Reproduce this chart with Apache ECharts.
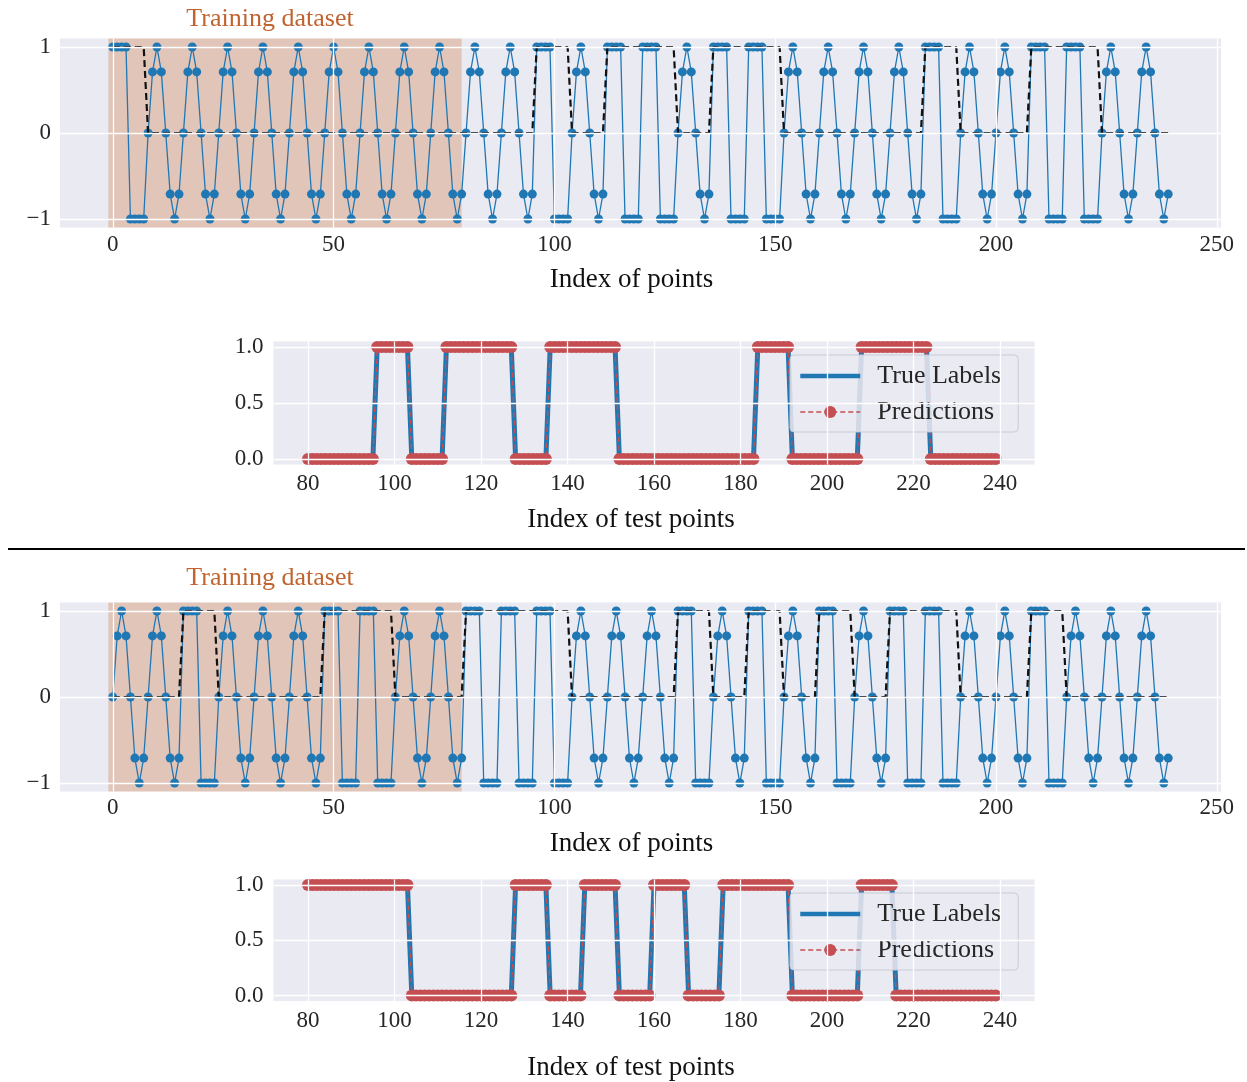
<!DOCTYPE html>
<html>
<head>
<meta charset="utf-8">
<script src="https://cdn.jsdelivr.net/npm/echarts@6/dist/echarts.min.js"></script>
<style>
  html, body { margin: 0; padding: 0; background: #fff; }
  #main { width: 1247px; height: 1082px; }
</style>
</head>
<body>
<div id="main"></div>
<script>
// one period of each waveform (8 points)
const sineCycle = [0, 0.71, 1, 0.71, 0, -0.71, -1, -0.71];
const squareCycle = [1, 1, 1, 1, -1, -1, -1, -1];
// label of each 8-point segment (0 = sine, 1 = square), 30 segments -> 240 points
const segLabelsA = [1,0,0,0,0,0,0,0,0,0, 0,0,1,0,1,1,0,1,1,0, 0,0,0,1,0,0,1,1,0,0];
const segLabelsB = [0,0,1,0,0,0,1,1,0,0, 1,1,1,0,0,0,1,0,1,0, 1,0,1,1,0,0,1,0,0,0];
const testStart = 80;
const trainSpan = [-1, 79];

const xTicksAll = [0, 50, 100, 150, 200, 250];
const yTicksAll = [-1, 0, 1];
const xTicksTest = [80, 100, 120, 140, 160, 180, 200, 220, 240];
const yTicksTest = [0, 0.5, 1];

const FONT = '"Liberation Serif", "DejaVu Serif", serif';
const BLUE = '#1f77b4';
const RED = '#c44e52';

function buildSignal(segs) {
  let out = [];
  segs.forEach(s => { out = out.concat(s ? squareCycle : sineCycle); });
  return out;
}
function buildLabels(segs) {
  let out = [];
  segs.forEach(s => { for (let k = 0; k < 8; k++) out.push(s); });
  return out;
}

const chart = echarts.init(document.getElementById('main'));

function panelAll(idx, segs) {
  const sig = buildSignal(segs);
  const lab = buildLabels(segs);
  return [
    { // white grid lines
      type: 'line', xAxisIndex: idx, yAxisIndex: idx, data: [], z: 1, silent: true,
      markLine: {
        silent: true, symbol: ['none', 'none'], label: { show: false },
        lineStyle: { color: '#fff', width: 1.3, type: 'solid' },
        data: xTicksAll.map(v => ({ xAxis: v })).concat(yTicksAll.map(v => ({ yAxis: v })))
      }
    },
    {
      name: 'signal', type: 'line', xAxisIndex: idx, yAxisIndex: idx, z: 2,
      data: sig.map((v, i) => [i, v]),
      showAllSymbol: true, symbol: 'circle', symbolSize: 9,
      itemStyle: { color: BLUE, borderWidth: 0 },
      lineStyle: { color: BLUE, width: 1.3 }
    },
    {
      name: 'label', type: 'line', xAxisIndex: idx, yAxisIndex: idx, z: 3,
      data: lab.map((v, i) => [i, v]),
      symbol: 'none',
      lineStyle: { color: '#111', width: 2.2, type: [7, 4] }
    },
    { // training shading on top
      type: 'line', xAxisIndex: idx, yAxisIndex: idx, data: [], z: 5, silent: true,
      markArea: {
        silent: true,
        itemStyle: { color: 'rgba(205,100,35,0.27)' },
        data: [[{ xAxis: trainSpan[0] }, { xAxis: trainSpan[1] }]]
      }
    }
  ];
}

function panelTest(idx, segs) {
  const lab = buildLabels(segs).slice(testStart);
  const pts = lab.map((v, i) => [testStart + i, v]);
  return [
    {
      type: 'line', xAxisIndex: idx, yAxisIndex: idx, data: [], z: 1, silent: true,
      markLine: {
        silent: true, symbol: ['none', 'none'], label: { show: false },
        lineStyle: { color: '#fff', width: 1.3, type: 'solid' },
        data: xTicksTest.map(v => ({ xAxis: v })).concat(yTicksTest.map(v => ({ yAxis: v })))
      }
    },
    {
      name: 'True Labels', type: 'line', xAxisIndex: idx, yAxisIndex: idx, z: 2,
      data: pts, symbol: 'none',
      lineStyle: { color: BLUE, width: 5 },
      itemStyle: { color: BLUE }
    },
    {
      name: 'Predictions', type: 'line', xAxisIndex: idx, yAxisIndex: idx, z: 3,
      data: pts, showAllSymbol: true, symbol: 'circle', symbolSize: 12,
      itemStyle: { color: RED, borderWidth: 0 },
      lineStyle: { color: RED, width: 1.5, type: [5, 3] }
    }
  ];
}

function xAxisAll(gi, nameGap, margin) {
  return {
    type: 'value', gridIndex: gi, min: -11.95, max: 250.95,
    name: 'Index of points', nameLocation: 'middle', nameGap: nameGap,
    nameTextStyle: { fontFamily: FONT, fontSize: 27, color: '#111', padding: [0, 18, 0, 0] },
    axisLine: { show: false }, axisTick: { show: false, customValues: xTicksAll }, splitLine: { show: false },
    axisLabel: { customValues: xTicksAll, fontFamily: FONT, fontSize: 23, color: '#262626', margin: margin }
  };
}
function yAxisAll(gi) {
  return {
    type: 'value', gridIndex: gi, min: -1.1, max: 1.1,
    axisLine: { show: false }, axisTick: { show: false, customValues: yTicksAll }, splitLine: { show: false },
    axisLabel: {
      customValues: yTicksAll, fontFamily: FONT, fontSize: 23, color: '#262626', margin: 9,
      formatter: v => (v < 0 ? '\u2212' + Math.abs(v) : String(v))
    }
  };
}
function xAxisTest(gi, nameGap, margin) {
  return {
    type: 'value', gridIndex: gi, min: 72, max: 248,
    name: 'Index of test points', nameLocation: 'middle', nameGap: nameGap,
    nameTextStyle: { fontFamily: FONT, fontSize: 27, color: '#111', padding: [0, 46, 0, 0] },
    axisLine: { show: false }, axisTick: { show: false, customValues: xTicksTest }, splitLine: { show: false },
    axisLabel: { customValues: xTicksTest, fontFamily: FONT, fontSize: 23, color: '#262626', margin: margin }
  };
}
function yAxisTest(gi) {
  return {
    type: 'value', gridIndex: gi, min: -0.05, max: 1.05,
    axisLine: { show: false }, axisTick: { show: false, customValues: yTicksTest }, splitLine: { show: false },
    axisLabel: {
      customValues: yTicksTest, fontFamily: FONT, fontSize: 23, color: '#262626', margin: 10,
      formatter: v => v.toFixed(1)
    }
  };
}

function legendAt(top) {
  return {
    data: [
      { name: 'True Labels', itemStyle: { color: 'rgba(0,0,0,0)', borderWidth: 0 }, lineStyle: { width: 4.5, color: BLUE } },
      { name: 'Predictions', itemStyle: { color: RED, borderWidth: 0 }, lineStyle: { width: 1.5, color: RED, type: [5, 3] } }
    ],
    orient: 'vertical', left: 790, top: top,
    itemWidth: 60, itemHeight: 15, itemGap: 10,
    padding: [8, 17, 7, 8],
    backgroundColor: 'rgba(234,234,242,0.85)', borderColor: 'rgba(200,200,210,0.9)',
    borderWidth: 1, borderRadius: 4,
    textStyle: { fontFamily: FONT, fontSize: 26, color: '#262626', padding: [0, 0, 0, 12] }
  };
}

const gridBase = { show: true, backgroundColor: '#eaeaf2', borderWidth: 0, containLabel: false };

const option = {
  animation: false,
  backgroundColor: '#fff',
  title: [
    { text: 'Training dataset', left: 270, top: 6, textAlign: 'center', padding: 0,
      textStyle: { fontFamily: FONT, fontSize: 26, fontWeight: 'normal', color: '#c0632f' } },
    { text: 'Training dataset', left: 270, top: 565, textAlign: 'center', padding: 0,
      textStyle: { fontFamily: FONT, fontSize: 26, fontWeight: 'normal', color: '#c0632f' } }
  ],
  legend: [legendAt(355), legendAt(893)],
  grid: [
    Object.assign({ left: 60, right: 26, top: 38.4, height: 189.2 }, gridBase),
    Object.assign({ left: 273.4, right: 212.4, top: 341.4, height: 123.2 }, gridBase),
    Object.assign({ left: 60, right: 26, top: 602.4, height: 189.2 }, gridBase),
    Object.assign({ left: 273.4, right: 212.4, top: 879.4, height: 123.2 }, gridBase)
  ],
  xAxis: [xAxisAll(0, 39, 6), xAxisTest(1, 42, 8), xAxisAll(2, 39, 5), xAxisTest(3, 53, 8)],
  yAxis: [yAxisAll(0), yAxisTest(1), yAxisAll(2), yAxisTest(3)],
  graphic: [
    { type: 'line', shape: { x1: 8, y1: 549, x2: 1245, y2: 549 }, style: { stroke: '#000', lineWidth: 2 } }
  ],
  series: [].concat(
    panelAll(0, segLabelsA),
    panelTest(1, segLabelsA),
    panelAll(2, segLabelsB),
    panelTest(3, segLabelsB)
  )
};

chart.setOption(option);
</script>
</body>
</html>
